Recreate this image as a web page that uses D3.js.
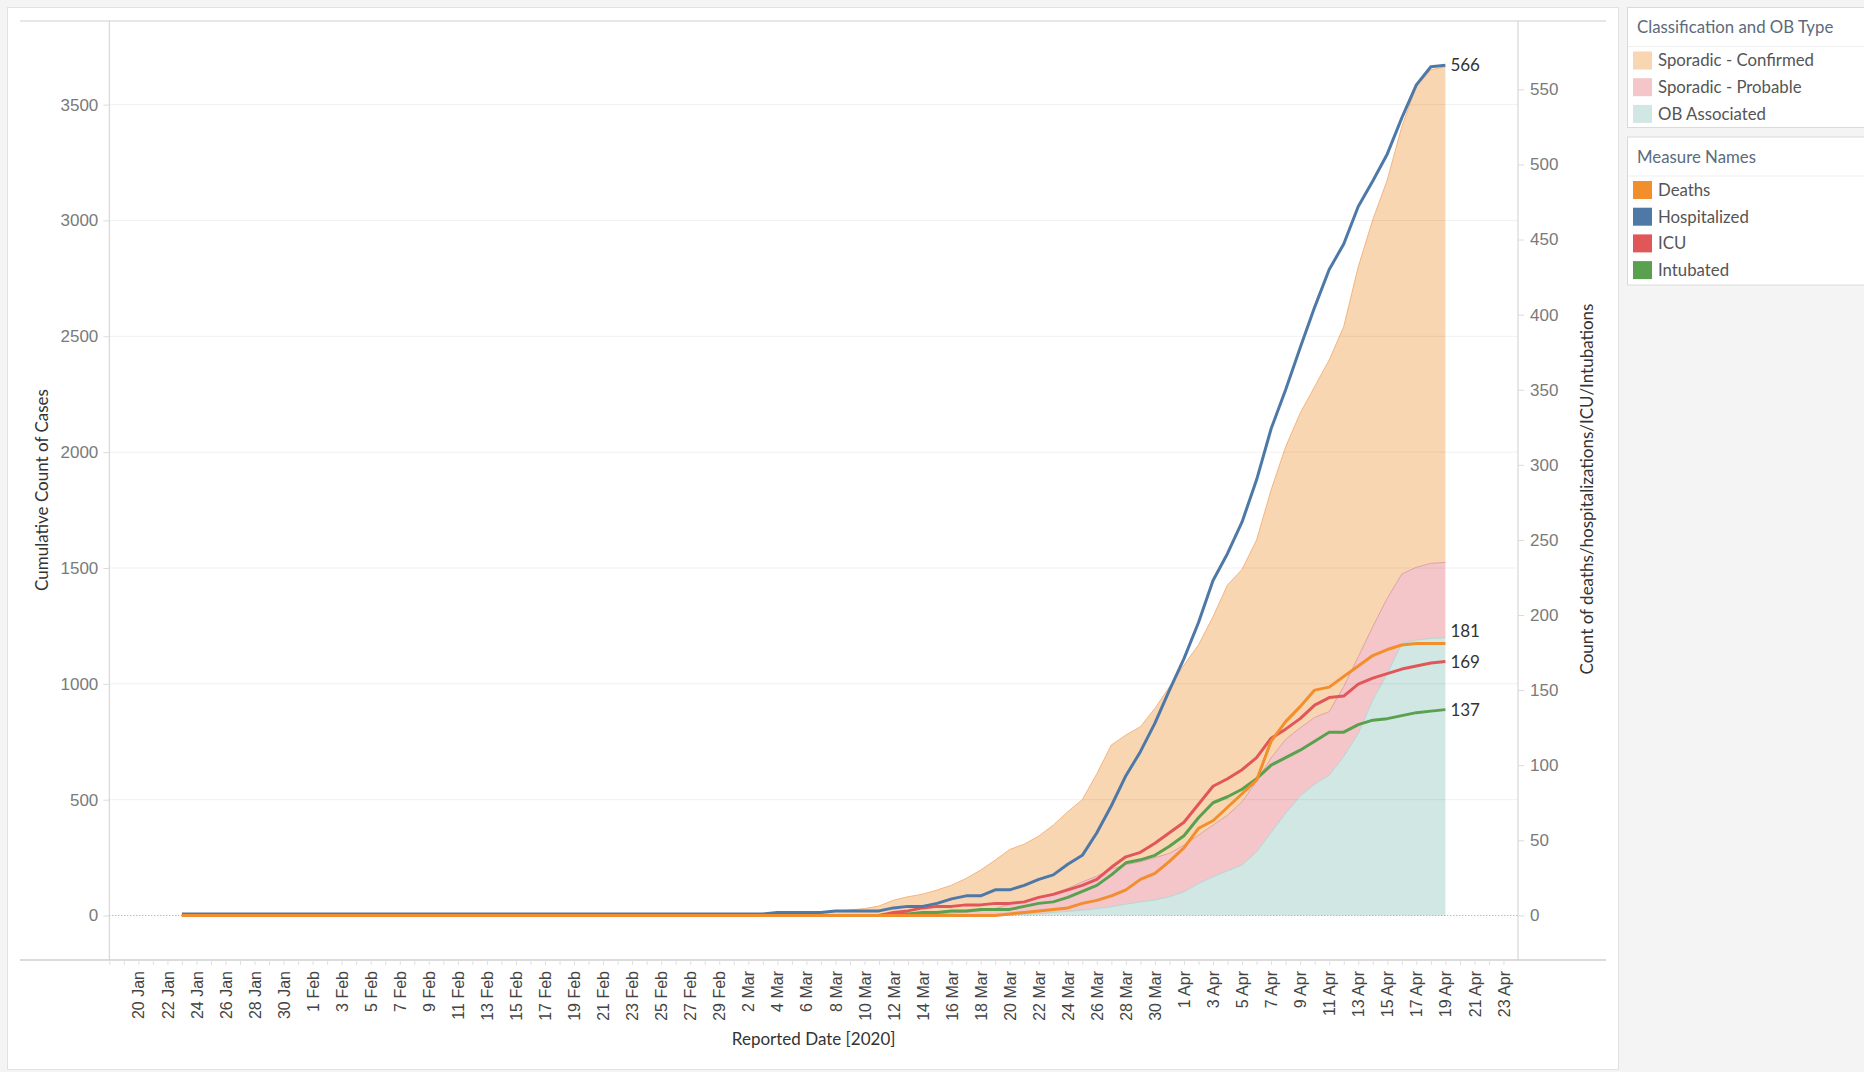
<!DOCTYPE html>
<html>
<head>
<meta charset="utf-8">
<script src="https://cdn.jsdelivr.net/npm/d3@7"></script>
<style>
  body { margin: 0; background: #f4f4f4; }
  svg { display: block; font-family: Lato, "Open Sans", sans-serif; }
</style>
</head>
<body>
<div id="chart"></div>
<script>
// one value per reported day, starting 23 Jan 2020 and ending 19 Apr 2020
const firstDay = "2020-01-23";

// right axis (counts of deaths / hospitalizations / ICU / intubations)
const hospitalized = [
  1,1,1,1,1,1,1,1,1,1, 1,1,1,1,1,1,1,1,1,1, 1,1,1,1,1,1,1,1,1,1, 1,1,1,1,1,1,1,1,
  1,1,1,2,2,2,2,3,3,3, 3,5,6,6,8,11,13,13,17,17, 20,24,27,34,40,55,73,93,109,128, 150,
  171,195,223,241,262,290,324,350,378,405, 430,447,472,489,507,531,553,565,566
];
const icu = [
  0,0,0,0,0,0,0,0,0,0, 0,0,0,0,0,0,0,0,0,0, 0,0,0,0,0,0,0,0,0,0, 0,0,0,0,0,0,0,0,
  0,0,0,0,0,0,0,0,0,0, 0,2,3,5,6,6,7,7,8,8, 9,12,14,17,20,24,32,39,42,48, 55,
  62,74,86,91,97,105,118,124,131,140, 145,146,154,158,161,164,166,168,169
];
const intubated = [
  0,0,0,0,0,0,0,0,0,0, 0,0,0,0,0,0,0,0,0,0, 0,0,0,0,0,0,0,0,0,0, 0,0,0,0,0,0,0,0,
  0,0,0,0,0,0,0,0,0,0, 0,1,1,2,2,3,3,4,4,4, 6,8,9,12,16,20,27,35,37,40, 46,
  53,65,75,79,84,91,100,105,110,116, 122,122,127,130,131,133,135,136,137
];
const deaths = [
  0,0,0,0,0,0,0,0,0,0, 0,0,0,0,0,0,0,0,0,0, 0,0,0,0,0,0,0,0,0,0, 0,0,0,0,0,0,0,0,
  0,0,0,0,0,0,0,0,0,0, 0,0,0,0,0,0,0,0,0,1, 2,3,4,5,8,10,13,17,24,28, 36,
  45,58,63,72,81,90,116,129,139,150, 152,159,166,173,177,180,181,181,181
];

// left axis (cumulative cases, stacked)
const sporadicConfirmed = [
  0,0,1,1,2,2,2,2,2,2, 2,2,2,2,2,2,2,2,2,2, 2,2,2,2,2,2,2,2,2,3, 3,3,4,4,5,5,6,6,
  7,8,9,10,12,14,16,19,23,28, 38,62,76,86,102,120,145,176,209,236, 249,265,295,331,355,442,536,559,583,644, 719,
  777,821,900,994,1003,1041,1157,1263,1358,1428, 1518,1554,1683,1756,1806,1931,2075,2130,2140
];
const sporadicProbable = [
  0,0,0,0,0,0,0,0,0,0, 0,0,0,0,0,0,0,0,0,0, 0,0,0,0,0,0,0,0,0,0, 0,0,0,0,0,0,0,0,
  0,0,0,0,0,0,0,0,1,2, 3,4,4,5,7,9,13,18,28,46, 54,70,82,99,122,140,162,171,173,183, 187,
  202,209,223,240,273,305,322,319,294,288, 274,302,331,317,324,300,314,324,325
];
const obAssociated = [
  0,0,0,0,0,0,0,0,0,0, 0,0,0,0,0,0,0,0,0,0, 0,0,0,0,0,0,0,0,0,0, 0,0,0,0,0,0,0,0,
  0,0,0,0,0,0,0,0,0,0, 0,0,1,1,1,2,2,2,2,3, 5,8,13,18,23,30,38,49,59,67, 81,
  102,138,167,193,218,275,358,441,516,567, 606,686,786,930,1045,1174,1189,1196,1199
];

const leftTicks = [0, 500, 1000, 1500, 2000, 2500, 3000, 3500];
const rightTicks = [0, 50, 100, 150, 200, 250, 300, 350, 400, 450, 500, 550];
const xDomain = ["2020-01-18", "2020-04-24"];
const xTickFirst = "2020-01-20";

const caseKeys = ["ob", "probable", "confirmed"];
const caseNames = { confirmed: "Sporadic - Confirmed", probable: "Sporadic - Probable", ob: "OB Associated" };
const caseFill = { confirmed: "#f9d6b2", probable: "#f4c6c9", ob: "#d1e7e4" };
const caseEdge = { confirmed: "#f4b57e", probable: "#dfa1a5", ob: "#b5d6d2" };

const measureKeys = ["deaths", "hospitalized", "icu", "intubated"];
const measureNames = { deaths: "Deaths", hospitalized: "Hospitalized", icu: "ICU", intubated: "Intubated" };
const measureColor = { deaths: "#f28e2b", hospitalized: "#4e79a7", icu: "#e15759", intubated: "#59a14f" };

const parse = d3.timeParse("%Y-%m-%d");
const start = parse(firstDay);
const rows = hospitalized.map((v, i) => ({
  date: d3.timeDay.offset(start, i),
  hospitalized: v,
  icu: icu[i],
  intubated: intubated[i],
  deaths: deaths[i],
  confirmed: sporadicConfirmed[i],
  probable: sporadicProbable[i],
  ob: obAssociated[i]
}));

const W = 1864, H = 1072;
const plotLeft = 109.3, plotRight = 1518, plotTop = 21, plotBottom = 960;

const svg = d3.select("#chart").append("svg").attr("width", W).attr("height", H);

svg.append("rect").attr("width", W).attr("height", H).attr("fill", "#f4f4f4");
svg.append("rect").attr("x", 7.5).attr("y", 7.5).attr("width", 1611).attr("height", 1062)
  .attr("fill", "#fff").attr("stroke", "#e2e2e2");

const x = d3.scaleTime().domain(xDomain.map(parse)).range([plotLeft, plotRight]);
const yL = d3.scaleLinear().domain([-192, 3861]).range([plotBottom, plotTop]);
const yR = d3.scaleLinear().domain([-29.7, 595.5]).range([plotBottom, plotTop]);

// stacked case areas
const stacked = d3.stack().keys(caseKeys)(rows);
const area = d3.area()
  .x(d => x(d.data.date))
  .y0(d => yL(d[0]))
  .y1(d => yL(d[1]));
const edge = d3.line()
  .x(d => x(d.data.date))
  .y(d => yL(d[1]));

svg.append("g").selectAll("path").data(stacked).join("path")
  .attr("fill", d => caseFill[d.key])
  .attr("d", area);
svg.append("g").selectAll("path").data(stacked).join("path")
  .attr("fill", "none")
  .attr("stroke", d => caseEdge[d.key])
  .attr("stroke-width", 1)
  .attr("d", edge);

// gridlines
svg.append("g").selectAll("line").data(leftTicks.filter(t => t > 0)).join("line")
  .attr("x1", plotLeft).attr("x2", plotRight)
  .attr("y1", d => yL(d)).attr("y2", d => yL(d))
  .attr("stroke", "rgba(0,0,0,0.06)");

svg.append("line")
  .attr("x1", plotLeft).attr("x2", plotRight)
  .attr("y1", yL(0)).attr("y2", yL(0))
  .attr("stroke", "#9a9a9a").attr("stroke-dasharray", "1,2");

// measure lines (deaths drawn last, on top)
const drawOrder = ["intubated", "icu", "hospitalized", "deaths"];
drawOrder.forEach(k => {
  const line = d3.line().x(d => x(d.date)).y(d => yR(d[k]));
  svg.append("path").datum(rows)
    .attr("fill", "none")
    .attr("stroke", measureColor[k])
    .attr("stroke-width", 3)
    .attr("stroke-linejoin", "round")
    .attr("d", line);
});

// end labels
const last = rows[rows.length - 1];
const labelShift = { deaths: -12, hospitalized: 0, icu: 0, intubated: 0 };
measureKeys.forEach(k => {
  svg.append("text")
    .attr("x", x(last.date) + 5)
    .attr("y", yR(last[k]) + labelShift[k])
    .attr("dy", "0.35em")
    .attr("font-size", 17)
    .attr("fill", "#333")
    .text(last[k]);
});

// frame lines
const frame = svg.append("g").attr("stroke", "#cfcfcf");
frame.append("line").attr("x1", 20).attr("x2", 1606).attr("y1", plotTop).attr("y2", plotTop);
frame.append("line").attr("x1", 20).attr("x2", 1606).attr("y1", plotBottom).attr("y2", plotBottom).attr("stroke-width", 1.5);
frame.append("line").attr("x1", plotLeft).attr("x2", plotLeft).attr("y1", plotTop).attr("y2", plotBottom);
frame.append("line").attr("x1", plotRight).attr("x2", plotRight).attr("y1", plotTop).attr("y2", plotBottom);

// left axis
const axL = svg.append("g").attr("transform", `translate(${plotLeft},0)`)
  .call(d3.axisLeft(yL).tickValues(leftTicks).tickFormat(d3.format("d")).tickSize(6).tickPadding(5));
axL.select(".domain").remove();
axL.selectAll("line").attr("stroke", "#dcdcdc");
axL.selectAll("text").attr("font-size", 17).attr("fill", "#7a7a7a").attr("font-family", null);

// right axis
const axR = svg.append("g").attr("transform", `translate(${plotRight},0)`)
  .call(d3.axisRight(yR).tickValues(rightTicks).tickFormat(d3.format("d")).tickSize(6).tickPadding(6));
axR.select(".domain").remove();
axR.selectAll("line").attr("stroke", "#dcdcdc");
axR.selectAll("text").attr("font-size", 17).attr("fill", "#7a7a7a").attr("font-family", null);

// x axis: a small tick per day, a label every other day
const dayTicks = d3.timeDay.range(x.domain()[0], x.domain()[1]);
const labelTicks = d3.timeDay.range(parse(xTickFirst), x.domain()[1], 2);
const axMinor = svg.append("g").attr("transform", `translate(0,${plotBottom})`)
  .call(d3.axisBottom(x).tickValues(dayTicks).tickSize(5).tickFormat(""));
axMinor.select(".domain").remove();
axMinor.selectAll("line").attr("stroke", "#e0e0e0");

const axX = svg.append("g").attr("transform", `translate(0,${plotBottom})`)
  .call(d3.axisBottom(x).tickValues(labelTicks).tickSize(0).tickFormat(d3.timeFormat("%-d %b")));
axX.select(".domain").remove();
axX.selectAll("text")
  .attr("font-size", 16).attr("fill", "#444").attr("font-family", null)
  .attr("transform", "rotate(-90)")
  .attr("text-anchor", "end")
  .attr("x", -11).attr("y", 0).attr("dy", "0.35em");

// axis titles
svg.append("text").attr("transform", "translate(42,490) rotate(-90)")
  .attr("text-anchor", "middle").attr("dy", "0.35em")
  .attr("font-size", 17).attr("fill", "#333").text("Cumulative Count of Cases");
svg.append("text").attr("transform", "translate(1587,489) rotate(-90)")
  .attr("text-anchor", "middle").attr("dy", "0.35em")
  .attr("font-size", 17).attr("fill", "#333").text("Count of deaths/hospitalizations/ICU/Intubations");
svg.append("text").attr("x", (plotLeft + plotRight) / 2).attr("y", 1039)
  .attr("text-anchor", "middle").attr("dy", "0.35em")
  .attr("font-size", 17).attr("fill", "#333").text("Reported Date [2020]");

// legends
const legend = (y0, h, title, keys, names, colors) => {
  const g = svg.append("g");
  g.append("rect").attr("x", 1627.5).attr("y", y0).attr("width", 260).attr("height", h)
    .attr("fill", "#fff").attr("stroke", "#dadada");
  g.append("line").attr("x1", 1628).attr("x2", 1864).attr("y1", y0 + 39).attr("y2", y0 + 39)
    .attr("stroke", "#f0f0f0");
  g.append("text").attr("x", 1637).attr("y", y0 + 20).attr("dy", "0.35em")
    .attr("font-size", 16.8).attr("fill", "#5b6b7d").text(title);
  keys.forEach((k, i) => {
    const cy = y0 + 53 + i * 26.7;
    g.append("rect").attr("x", 1633).attr("y", cy - 9).attr("width", 19).attr("height", 18)
      .attr("fill", colors[k]);
    g.append("text").attr("x", 1658).attr("y", cy).attr("dy", "0.35em")
      .attr("font-size", 16.8).attr("fill", "#555").text(names[k]);
  });
};
legend(7.5, 120, "Classification and OB Type", ["confirmed", "probable", "ob"], caseNames, caseFill);
legend(137, 148, "Measure Names", measureKeys, measureNames, measureColor);
</script>
</body>
</html>
